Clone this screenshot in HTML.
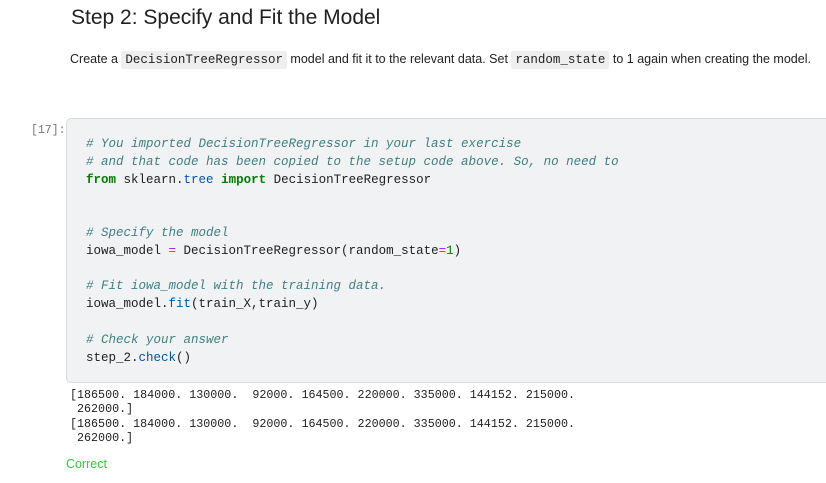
<!DOCTYPE html>
<html><head><meta charset="utf-8"><style>
body{margin:0;width:826px;height:483px;background:#fff;position:relative;overflow:hidden;font-family:"Liberation Sans",sans-serif;color:#222}
.a{position:absolute;white-space:pre}
h1{position:absolute;left:71px;top:6px;margin:0;font-weight:normal;font-size:21px;color:#212121}
.p{left:70px;top:51px;font-size:12.5px;line-height:16px;color:#222}
.p code{font-family:"Liberation Mono",monospace;font-size:12.5px;background:#eeeeee;padding:2px 4px;border-radius:2px}
.cell{position:absolute;left:66px;top:118px;width:770px;height:265px;background:#f1f2f4;border:1px solid #dcdcdc;border-radius:5px;box-sizing:border-box}
.code{left:86px;top:136px;font-family:"Liberation Mono",monospace;font-size:12.5px;line-height:17.8px;color:#212121}
.c{color:#408080;font-style:italic}.k{color:#008000;font-weight:bold}.b{color:#0055aa}.o{color:#aa22ff}.n{color:#008000}
.out{left:70px;top:388px;font-family:"Liberation Mono",monospace;font-size:11.7px;line-height:14.3px;color:#222}
.pr{left:31px;top:124px;font-family:"Liberation Mono",monospace;font-size:11.5px;color:#777}
</style></head><body>
<h1>Step 2: Specify and Fit the Model</h1>
<div class="a p">Create a <code>DecisionTreeRegressor</code> model and fit it to the relevant data. Set <code>random_state</code> to 1 again when creating the model.</div>
<div class="a pr">[17]:</div>
<div class="cell"></div>
<div class="a code"><span class="c"># You imported DecisionTreeRegressor in your last exercise</span>
<span class="c"># and that code has been copied to the setup code above. So, no need to</span>
<span class="k">from</span> sklearn.<span class="b">tree</span> <span class="k">import</span> DecisionTreeRegressor


<span class="c"># Specify the model</span>
iowa_model <span class="o">=</span> DecisionTreeRegressor(random_state<span class="o">=</span><span class="n">1</span>)

<span class="c"># Fit iowa_model with the training data.</span>
iowa_model.<span class="b">fit</span>(train_X,train_y)

<span class="c"># Check your answer</span>
step_2.<span class="b">check</span>()</div>
<div class="a out">[186500. 184000. 130000.  92000. 164500. 220000. 335000. 144152. 215000.
 262000.]
[186500. 184000. 130000.  92000. 164500. 220000. 335000. 144152. 215000.
 262000.]</div>
<div class="a" style="left:66px;top:457px;font-size:12.5px;color:#33cc33">Correct</div>
</body></html>
